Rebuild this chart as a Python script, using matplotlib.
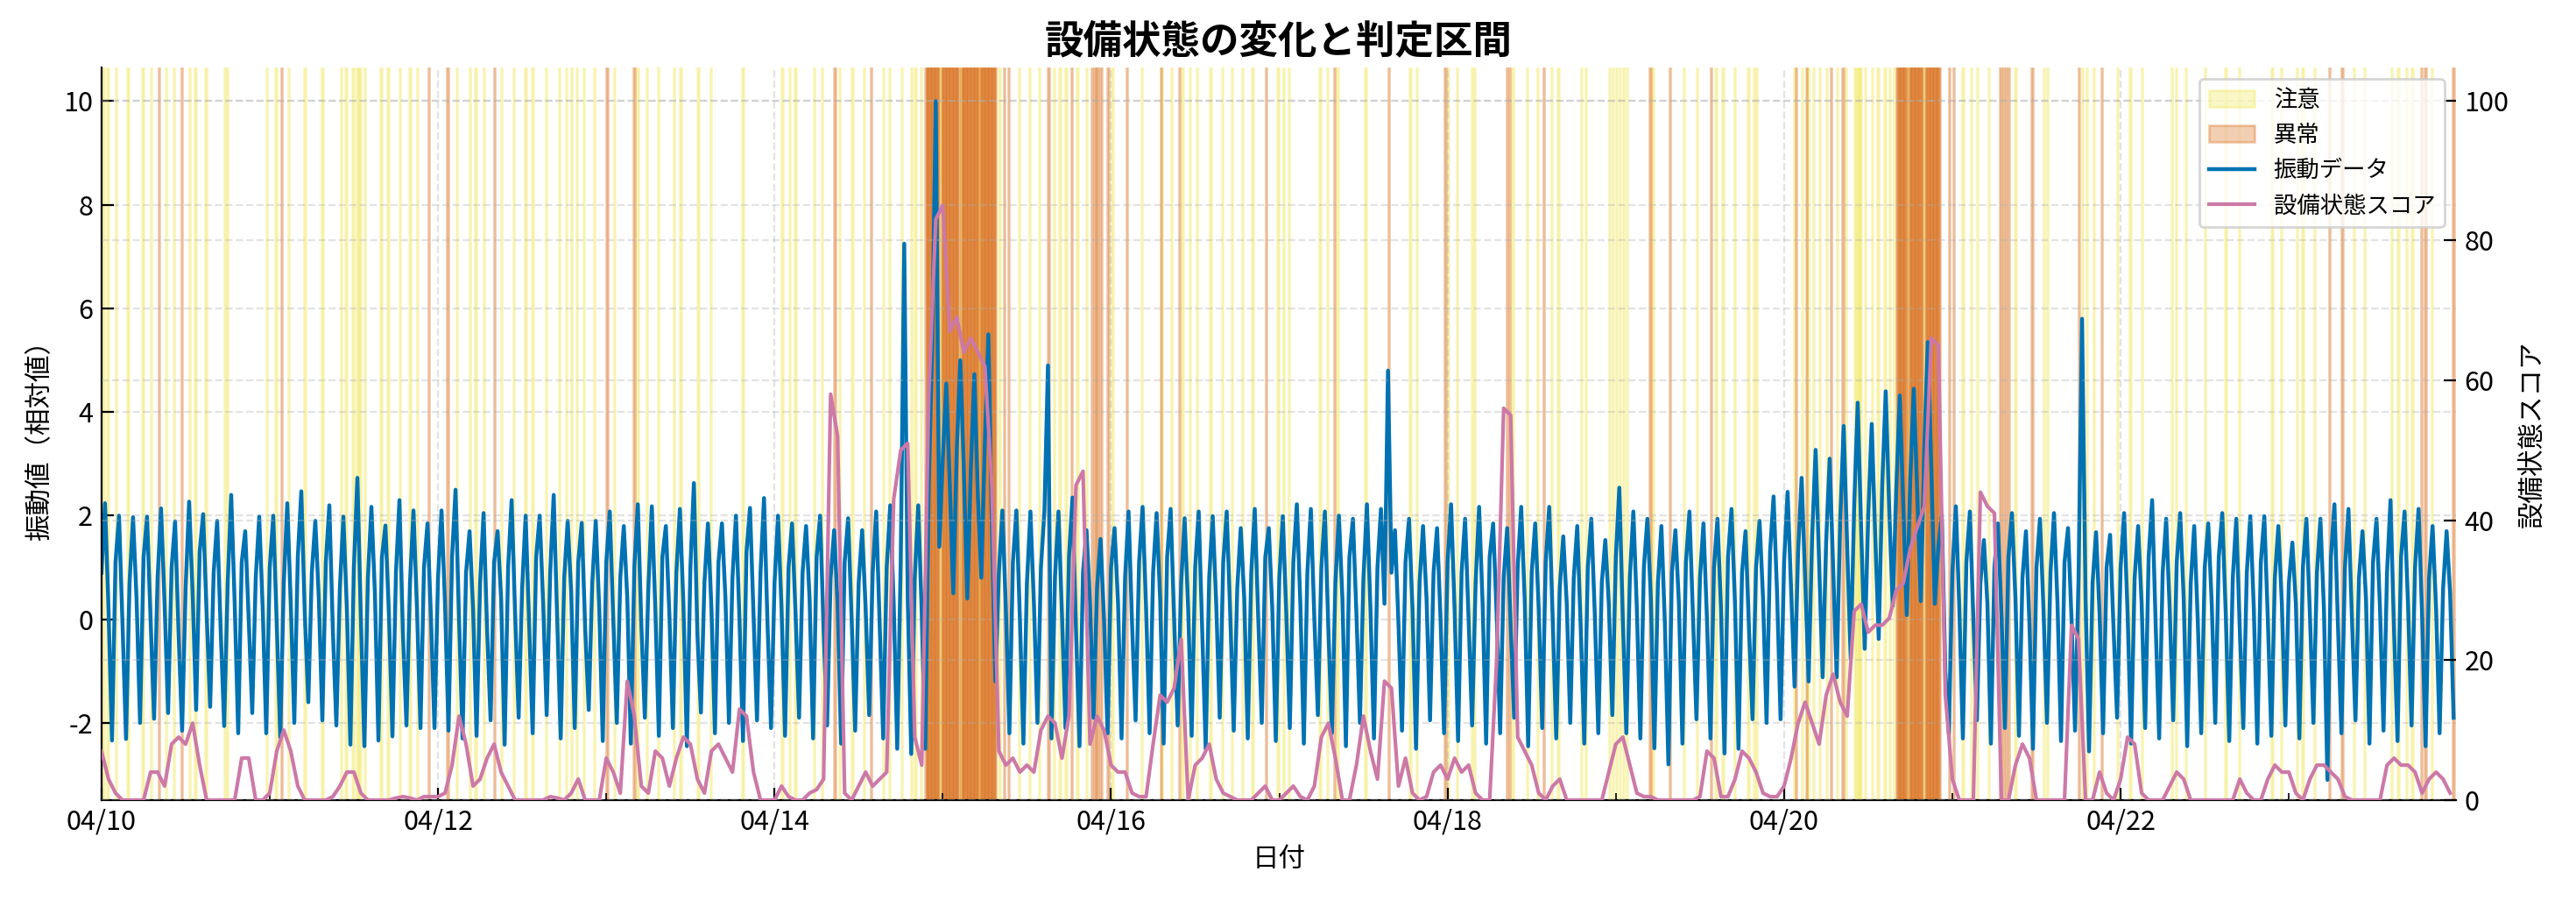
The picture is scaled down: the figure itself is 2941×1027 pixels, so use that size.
import numpy as np
import pandas as pd
import matplotlib
matplotlib.use("Agg")
import matplotlib.pyplot as plt
import matplotlib.dates as mdates

plt.rcParams['font.family'] = ['Noto Sans CJK JP', 'DejaVu Sans']
plt.rcParams['axes.unicode_minus'] = False

start = pd.Timestamp('2024-04-10 00:00')
end = pd.Timestamp('2024-04-23 23:50')

# vibration: one 2-hour cycle = rise shoulder, peak, fall shoulder, trough (30 min apart)
# 12 cycles per day, rows = 04/10 ... 04/23
vib_rise = [
    0.9, 1.1, 0.7, 1.2, 0.8, 1.0, 0.6, 1.3, 0.9, 0.7, 1.1, 0.8,
    1.0, 0.7, 1.2, 0.9, 1.1, 0.6, 1.0, 0.8, 1.2, 0.9, 0.7, 1.0,
    0.8, 1.2, 0.9, 0.7, 1.1, 1.0, 0.6, 1.2, 0.9, 0.8, 1.1, 0.7,
    1.1, 0.8, 1.0, 0.6, 1.2, 0.9, 1.0, 0.7, 1.1, 0.8, 1.3, 0.9,
    0.7, 1.0, 0.9, 1.2, 0.8, 1.1, 0.7, 0.9, 1.0, 1.1, 0.8, 2.6,
    3.1, 3.3, 2.9, 3.4, 0.9, 1.1, 0.7, 1.0, 0.8, 1.2, 0.9, 0.6,
    1.0, 0.8, 1.1, 0.9, 1.2, 0.7, 1.0, 0.8, 1.1, 0.6, 0.9, 1.2,
    0.8, 1.1, 0.9, 1.0, 0.7, 1.2, 0.8, 1.0, 0.9, 1.1, 0.7, 0.9,
    1.1, 0.9, 0.7, 1.2, 0.8, 1.0, 0.9, 1.1, 0.6, 0.8, 1.0, 0.7,
    1.2, 0.8, 1.0, 0.7, 0.9, 1.1, 0.8, 1.0, 1.2, 0.9, 1.0, 1.3,
    1.1, 1.3, 1.6, 1.5, 1.9, 2.2, 2.0, 2.6, 2.5, 2.7, 3.3, 1.4,
    0.9, 1.1, 0.7, 1.0, 1.2, 0.8, 1.0, 0.9, 1.1, 0.8, 0.7, 1.0,
    1.0, 0.8, 1.2, 0.9, 1.1, 0.7, 1.0, 1.2, 0.8, 0.9, 1.1, 0.8,
    0.7, 1.0, 0.9, 1.2, 1.0, 0.8, 1.1, 0.9, 1.2, 1.0, 0.8, 0.6,
]
vib_peak = [
    2.24, 2.0, 1.97, 1.98, 2.14, 1.89, 2.27, 2.03, 1.9, 2.4, 1.7, 1.98,
    2.0, 2.24, 2.47, 1.9, 2.2, 1.98, 2.73, 2.17, 1.81, 2.3, 2.1, 1.85,
    2.1, 2.5, 1.7, 2.05, 1.7, 2.3, 2.0, 2.0, 2.4, 1.9, 1.86, 1.9,
    2.08, 1.8, 2.22, 2.18, 1.8, 2.13, 2.63, 1.85, 1.85, 2.0, 2.15, 2.34,
    2.0, 1.85, 1.8, 2.0, 1.72, 1.95, 1.72, 2.08, 2.2, 7.25, 2.2, 5.3,
    4.55, 5.0, 4.73, 5.5, 2.1, 2.1, 2.08, 2.1, 2.08, 2.35, 1.72, 1.55,
    1.76, 2.08, 2.17, 2.05, 2.13, 1.95, 2.08, 1.99, 2.08, 1.76, 2.13, 1.76,
    1.99, 2.22, 2.13, 2.08, 2.0, 1.94, 2.22, 2.13, 1.72, 1.94, 1.8, 1.76,
    2.22, 1.94, 2.17, 1.85, 1.76, 2.17, 1.85, 2.17, 1.6, 1.8, 1.94, 1.53,
    2.54, 2.08, 1.94, 1.8, 1.72, 2.08, 1.85, 1.94, 2.13, 1.7, 1.9, 2.37,
    2.46, 2.73, 3.27, 3.1, 3.73, 4.18, 3.77, 4.4, 4.32, 4.45, 5.35, 2.0,
    2.18, 2.08, 1.53, 1.85, 2.05, 1.7, 1.94, 2.05, 1.76, 5.8, 1.68, 1.63,
    2.05, 1.8, 2.3, 1.94, 2.05, 1.8, 1.85, 2.05, 1.94, 1.99, 1.99, 1.8,
    1.48, 1.94, 1.94, 2.22, 2.13, 1.7, 1.94, 2.3, 2.08, 2.13, 1.8, 1.7,
]
vib_fall = [
    0.2, -0.1, 0.4, 0.0, 0.3, -0.3, 0.5, 0.1, -0.2, 0.3, 0.0, 0.2,
    -0.1, 0.3, 0.1, 0.4, -0.2, 0.2, 0.0, 0.5, 0.1, -0.3, 0.2, 0.0,
    0.3, 0.0, 0.2, -0.2, 0.4, 0.1, -0.1, 0.3, 0.0, 0.5, -0.2, 0.2,
    0.0, 0.4, -0.1, 0.2, 0.1, 0.3, -0.3, 0.2, 0.4, 0.0, 0.1, -0.1,
    0.2, 0.1, 0.4, -0.2, 0.3, 0.0, 0.2, -0.1, 0.3, 0.4, 0.1, 10.0,
    2.6, 2.9, 2.4, 1.8, 0.2, 0.0, 0.3, 4.9, 0.1, -0.2, 0.3, 0.0,
    0.3, -0.1, 0.2, 0.4, 0.0, 0.2, -0.2, 0.3, 0.1, 0.4, 0.0, 0.2,
    0.1, 0.3, 0.0, -0.2, 0.4, 0.1, 0.2, 0.3, -0.1, 0.2, 0.4, 0.0,
    0.2, 0.0, 0.3, 0.1, -0.1, 0.4, 0.2, 0.0, 0.3, -0.2, 0.1, 0.3,
    0.0, 0.2, 0.4, -0.1, 0.3, 0.1, 0.0, 0.2, 0.3, -0.2, 0.4, 0.5,
    0.6, 0.8, 1.1, 1.0, 1.4, 1.7, 1.6, 2.1, 2.2, 2.4, 2.9, -1.0,
    0.2, 0.0, 0.3, 0.1, 0.4, -0.1, 0.2, 0.3, 0.0, 0.4, 0.1, -0.2,
    0.1, 0.3, -0.1, 0.2, 0.4, 0.0, 0.3, 0.1, -0.2, 0.2, 0.0, 0.3,
    0.3, 0.1, 0.2, -0.1, 0.0, 0.4, 0.2, -0.2, 0.3, 0.1, 0.2, 0.5,
]
vib_trough = [
    -2.34, -2.31, -2.0, -1.92, -1.81, -2.15, -1.75, -1.69, -2.06, -2.2, -1.81, -2.2,
    -2.28, -2.0, -1.6, -1.95, -2.05, -2.42, -2.45, -2.34, -2.26, -2.05, -2.1, -2.1,
    -2.15, -2.3, -2.25, -1.95, -2.42, -1.9, -2.2, -1.85, -2.3, -2.1, -1.75, -2.35,
    -2.0, -2.4, -1.9, -2.25, -2.1, -2.45, -1.8, -2.2, -2.0, -2.35, -1.95, -2.1,
    -2.25, -1.9, -2.3, -2.05, -2.4, -2.15, -1.85, -2.3, -2.5, -2.6, -2.5, 1.4,
    0.5, 0.4, 0.8, -1.2, -2.2, -2.4, -2.0, -2.3, -2.1, -2.45, -1.9, -2.2,
    -2.3, -1.95, -2.2, -2.4, -2.05, -2.25, -2.5, -1.9, -2.15, -2.3, -2.0, -2.35,
    -2.1, -2.4, -1.85, -2.2, -2.45, -2.0, -2.3, 4.8, -2.15, -2.5, -1.95, -2.2,
    -2.35, -2.05, -2.4, -2.2, -1.9, -2.45, -2.1, -2.3, -2.0, -2.4, -2.2, -1.85,
    -2.2, -2.3, -2.49, -2.8, -2.4, -1.93, -2.3, -2.59, -2.5, -1.93, -2.0, -1.93,
    -1.3, -1.2, -1.12, -1.12, -0.76, -0.57, -0.38, 0.26, 0.08, 0.35, 0.3, -2.2,
    -2.3, -1.95, -2.4, -2.1, -2.25, -2.5, -2.0, -2.35, -2.15, -2.55, -2.2, -1.9,
    -2.4, -2.1, -2.3, -1.95, -2.45, -2.2, -2.0, -2.35, -2.1, -2.4, -2.25, -2.05,
    -2.3, -2.0, -3.1, -2.2, -1.95, -2.4, -2.15, -2.35, -2.05, -2.45, -2.2, -1.9,
]

# equipment condition score, hourly, rows = days
score = [
    7, 3, 1, 0, 0, 0, 0, 4, 4, 2, 8, 9, 8, 11, 5, 0, 0, 0, 0, 0, 6, 6, 0, 0,
    1, 7, 10, 7, 2, 0, 0, 0, 0, 0.5, 2, 4, 4, 1, 0, 0, 0, 0, 0.3, 0.5, 0.3, 0, 0.5, 0.5,
    0.5, 1, 5, 12, 8, 2, 3, 6, 8, 4, 2, 0, 0, 0, 0, 0, 0.5, 0.3, 0, 1, 3, 0, 0, 0,
    6, 4, 1, 17, 12, 2, 1, 7, 6, 2, 6, 9, 8, 3, 1, 7, 8, 6, 4, 13, 12, 4, 0, 0,
    0, 2, 0.5, 0, 0, 1, 1.5, 3, 58, 52, 1, 0, 2, 4, 2, 3, 4, 43, 50, 51, 9, 5, 58, 83,
    85, 67, 69, 64, 66, 64, 62, 45, 7, 5, 6, 4, 5, 4, 10, 12, 11, 6, 12, 45, 47, 8, 12, 10,
    5, 4, 4, 1, 0.5, 0.5, 8, 15, 14, 16, 23, 0, 5, 6, 8, 3, 1, 0.5, 0, 0, 0, 1, 2, 0,
    0, 1, 2, 0.5, 0, 2, 9, 11, 6, 0, 0, 5, 12, 7, 3, 17, 16, 2, 6, 1, 0, 0.5, 4, 5,
    3, 6, 4, 5, 1, 0, 0, 20, 56, 55, 9, 7, 5, 1, 0, 2, 3, 0, 0, 0, 0, 0, 0, 4,
    8, 9, 5, 1, 0.5, 0.5, 0, 0, 0, 0, 0, 0, 0.5, 7, 6, 0.5, 0.5, 3, 7, 6, 4, 1, 0.5, 0.5,
    2, 6, 11, 14, 11, 8, 15, 18, 14, 12, 27, 28, 24, 25, 25, 26, 30, 31, 36, 39, 42, 66, 65, 15,
    3, 0, 0, 0, 44, 42, 41, 0, 0, 5, 8, 6, 0, 0, 0, 0, 0, 25, 23, 0, 0, 4, 1, 0,
    3, 9, 8, 1, 0, 0, 0, 2, 4, 3, 0, 0, 0, 0, 0, 0, 0, 3, 1, 0, 0, 3, 5, 4,
    4, 1, 0, 3, 5, 5, 4, 3, 0.5, 0, 0, 0, 0, 0, 5, 6, 5, 5, 4, 1, 3, 4, 3, 1,
]

# 10-minute slots judged 注意 / 異常 (hours after 04/10 00:00)
caution_h = [
    0.2, 0.8, 2.0, 3.7, 5.8, 7.0, 9.1, 10.2, 12.5, 13.3, 14.8, 17.5, 17.9, 23.5, 24.8,
    26.6, 28.9, 31.4, 34.1, 34.8, 35.8, 36.4, 36.8, 37.5, 39.8, 40.8, 42.5, 43.9, 45.0,
    50.6, 52.5, 53.3, 54.5, 57.0, 58.7, 60.4, 61.4, 63.3, 65.2, 66.2, 67.0, 67.7, 68.7,
    70.2, 73.1, 76.4, 77.7, 79.3, 81.6, 82.5, 85.0, 86.8, 91.4, 97.0, 98.1, 98.9, 101.6,
    102.7, 105.2, 107.0, 108.7, 111.4, 112.3, 114.1, 115.4, 116.0, 116.8, 128.0, 130.8,
    132.3, 133.7, 135.8, 136.6, 137.5, 139.1, 140.4, 144.1, 148.3, 151.2, 152.5, 154.1,
    155.2, 156.2, 158.1, 159.8, 161.2, 162.7, 164.1, 167.7, 168.5, 169.3, 173.7, 174.8,
    176.2, 180.2, 186.6, 187.5, 192.0, 193.3, 195.4, 195.8, 201.2, 203.3, 204.8, 206.8,
    207.7, 211.0, 211.6, 215.0, 215.5, 216.0, 216.5, 217.0, 217.5, 221.2, 225.6, 227.5,
    230.2, 231.2, 232.9, 234.8, 235.6, 236.0, 241.4, 242.5, 243.3, 244.1, 245.0, 246.0,
    247.5, 248.7, 250.0, 250.3, 250.6, 250.8, 251.5, 252.5, 253.3, 254.3, 255.0, 255.6,
    265.4, 266.6, 267.5, 269.1, 272.9, 277.0, 277.5, 282.5, 283.1, 284.1, 287.5, 289.3,
    291.0, 295.2, 295.8, 297.2, 300.0, 302.9, 304.8, 309.5, 310.8, 313.1, 313.9, 315.6,
    321.2, 322.7, 326.6, 327.5, 328.7, 329.5, 332.3,
    119.6, 122.4, 125.1, 257.6, 259.9,
]
abnormal_h = [
    8.1, 11.4, 25.6, 46.6, 49.3, 56.0, 72.0, 75.9, 104.5, 109.7, 128.7, 129.3, 135.0,
    138.3, 141.2, 141.6, 142.0, 142.5, 143.5, 146.2, 151.0, 153.7, 166.0, 175.8, 183.5,
    191.6, 200.4, 200.8, 205.6, 220.8, 223.6, 229.5, 241.6, 243.1, 246.6, 248.3, 263.5,
    264.1, 270.8, 271.2, 271.6, 272.0, 275.3, 282.0, 285.2, 317.7, 319.5, 330.8, 331.4,
    335.4,
]
# consecutive 異常 stretches (start hour, end hour)
abnormal_runs = [(117.5, 119.5), (119.8, 122.3), (122.6, 125.0), (125.3, 127.5),
                 (256.0, 257.5), (257.8, 259.8), (260.1, 262.25)]

vib = np.column_stack([vib_rise, vib_peak, vib_fall, vib_trough]).ravel()
vib_t = start + pd.to_timedelta(np.arange(len(vib)) * 30, unit='min')
score_t = start + pd.to_timedelta(np.arange(len(score)), unit='h')

fig, ax = plt.subplots(figsize=(14.705, 5.135), dpi=200)
fig.subplots_adjust(left=0.0394, right=0.9534, bottom=0.111, top=0.925)
ax2 = ax.twinx()

slot = pd.Timedelta(minutes=10)
for i, h in enumerate(caution_h):
    t0 = start + pd.Timedelta(hours=h)
    ax.axvspan(t0, t0 + slot, color='#F0E442', alpha=0.3,
               label='注意' if i == 0 else None)

abn = list(abnormal_h)
for a, b in abnormal_runs:
    abn += list(np.arange(a, b, 1 / 6))
for i, h in enumerate(abn):
    t0 = start + pd.Timedelta(hours=h)
    ax.axvspan(t0, t0 + slot, color='#D55E00', alpha=0.3,
               label='異常' if i == 0 else None)

ax.plot(vib_t, vib, color='#0072B2', lw=1.6, label='振動データ')
ax2.plot(score_t, score, color='#CC79A7', lw=1.5, label='設備状態スコア')

ax.set_xlim(start, end)
ax.set_ylim(-3.49, 10.65)
ax2.set_ylim(0, 104.7)
ax.set_yticks([-2, 0, 2, 4, 6, 8, 10])
ax2.set_yticks([0, 20, 40, 60, 80, 100])

ax.xaxis.set_major_locator(mdates.DayLocator(bymonthday=[10, 12, 14, 16, 18, 20, 22]))
ax.xaxis.set_minor_locator(mdates.DayLocator())
ax.xaxis.set_major_formatter(mdates.DateFormatter('%m/%d'))

ax.tick_params(axis='both', which='major', direction='in', length=5, labelsize=11)
ax.tick_params(axis='x', which='minor', direction='in', length=3)
ax2.tick_params(axis='y', direction='in', length=5, labelsize=11)

for s in ['top', 'right']:
    ax.spines[s].set_visible(False)
for s in ['top', 'right', 'left', 'bottom']:
    ax2.spines[s].set_visible(False)

ax.grid(True, linestyle='--', color='#b0b0b0', alpha=0.35)
ax2.grid(True, axis='y', linestyle='--', color='#b0b0b0', alpha=0.35)

ax.set_xlabel('日付', fontsize=11)
ax.set_ylabel('振動値（相対値）', fontsize=11)
ax2.set_ylabel('設備状態スコア', fontsize=11)
ax.set_title('設備状態の変化と判定区間', fontsize=16, fontweight='bold')

h1, l1 = ax.get_legend_handles_labels()
h2, l2 = ax2.get_legend_handles_labels()
ax2.legend(h1 + h2, l1 + l2, loc='upper right', fontsize=9.5)

fig.savefig('out.png', dpi=200)
